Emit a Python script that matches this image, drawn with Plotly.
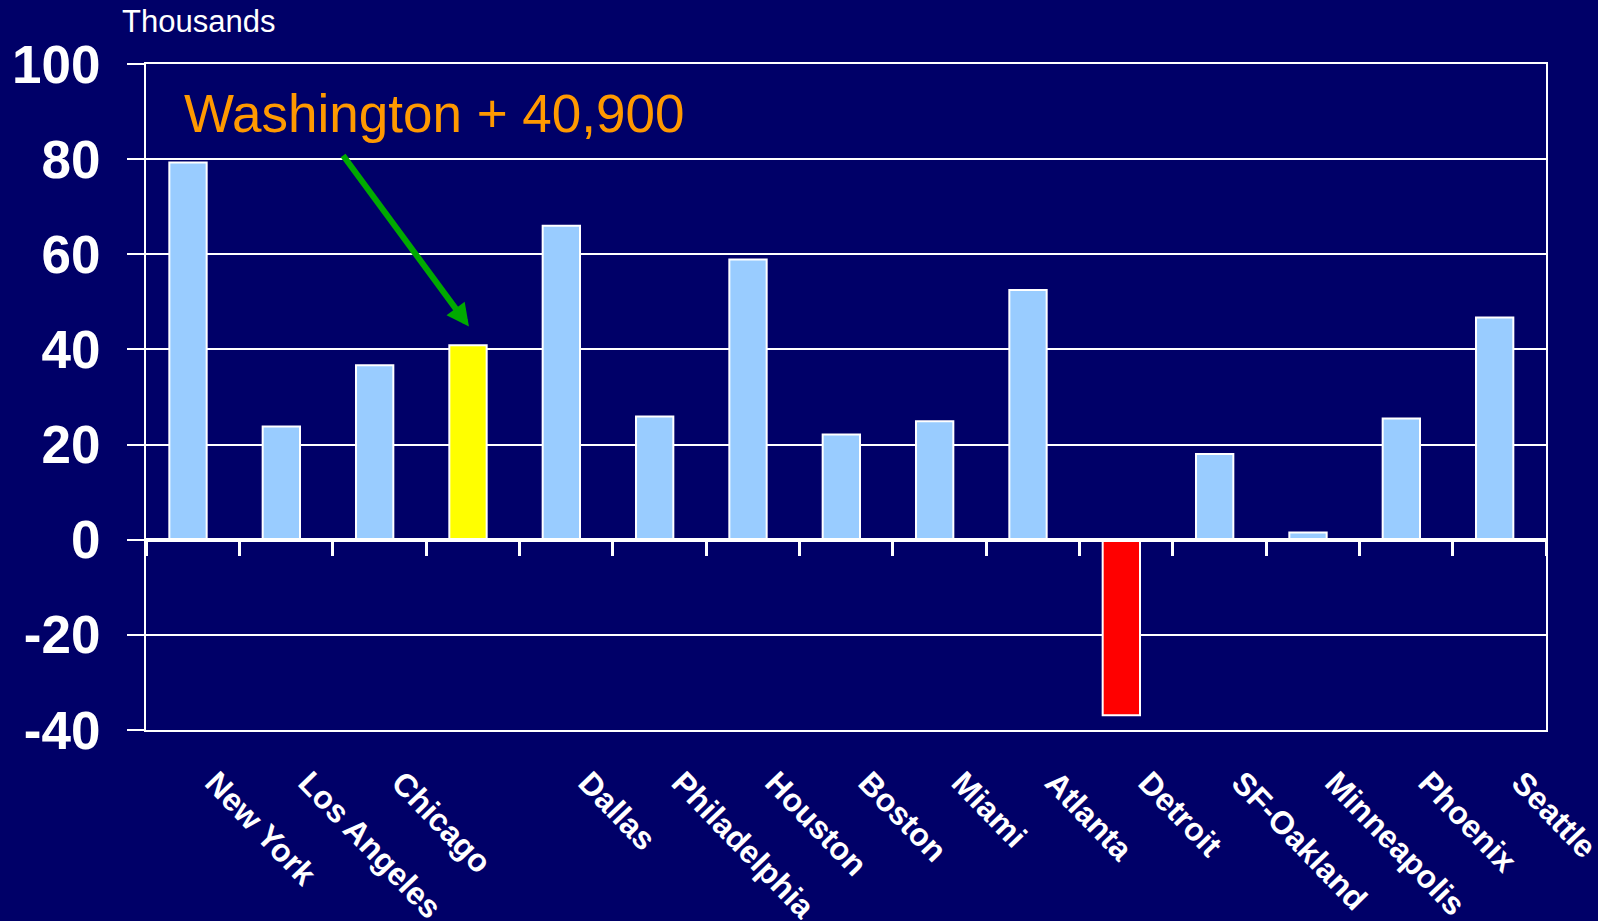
import plotly.graph_objects as go

cities = ["New York", "Los Angeles", "Chicago", "Washington", "Dallas", "Philadelphia",
          "Houston", "Boston", "Miami", "Atlanta", "Detroit", "SF-Oakland",
          "Minneapolis", "Phoenix", "Seattle"]
tick_labels = ["New York", "Los Angeles", "Chicago", "", "Dallas", "Philadelphia",
               "Houston", "Boston", "Miami", "Atlanta", "Detroit", "SF-Oakland",
               "Minneapolis", "Phoenix", "Seattle"]
values = [79.3, 23.8, 36.7, 40.9, 66.0, 25.9, 58.9, 22.1, 24.9, 52.5, -36.9, 18.0, 1.5, 25.5, 46.7]
bar_colors = ["#99CCFF"] * 3 + ["#FFFF00"] + ["#99CCFF"] * 6 + ["#FF0000"] + ["#99CCFF"] * 4
y_ticks = [-40, -20, 0, 20, 40, 60, 80, 100]
y_tick_text = ["-40", "-20", "0", "20", "40", "60", "80", "100"]

BG = "#000068"
W, H = 1598, 921
ML, MR, MT, MB = 146, 52, 64, 191
ymin, ymax = -40, 100
n = len(cities)

fig = go.Figure()
fig.add_trace(go.Bar(
    x=cities, y=values, width=0.4, offset=-0.25,
    marker=dict(color=bar_colors, line=dict(color="white", width=2)),
    showlegend=False,
))
# empty trace to make the zero-line axis render
fig.add_trace(go.Scatter(x=[], y=[], xaxis="x2", yaxis="y", showlegend=False, hoverinfo="skip"))

fig.update_layout(
    width=W, height=H,
    margin=dict(l=ML, r=MR, t=MT, b=MB, autoexpand=False),
    paper_bgcolor=BG, plot_bgcolor=BG,
    font=dict(family="Liberation Sans, Arial, sans-serif", color="white"),
    xaxis=dict(
        type="category", categoryorder="array", categoryarray=cities,
        tickmode="array", tickvals=cities, ticktext=tick_labels,
        tickangle=46, ticks="", ticklabelstandoff=19, ticklabelshift=22,
        tickfont=dict(size=32, color="white", weight="bold"),
        showgrid=False, zeroline=False, automargin=False,
        showline=True, linecolor="white", linewidth=2, mirror=True,
        range=[-0.5, n - 0.5],
    ),
    xaxis2=dict(
        overlaying="x", anchor="free", position=(0 - ymin) / (ymax - ymin),
        type="linear", range=[-0.5, n - 0.5], automargin=False,
        tickmode="array", tickvals=[i - 0.5 for i in range(n + 1)],
        showticklabels=False, showgrid=False, zeroline=False,
        showline=True, linecolor="white", linewidth=4,
        ticks="outside", ticklen=14, tickwidth=3, tickcolor="white",
    ),
    yaxis=dict(
        range=[ymin, ymax], tickmode="array", tickvals=y_ticks, ticktext=y_tick_text,
        showgrid=True, gridcolor="white", gridwidth=2,
        zeroline=False, automargin=False,
        showline=True, linecolor="white", linewidth=2, mirror=True,
        ticks="outside", ticklen=17, tickwidth=2, tickcolor="white",
        ticklabelstandoff=16,
        tickfont=dict(size=53, color="white", weight="bold"),
    ),
    annotations=[
        dict(text="Thousands", xref="paper", yref="paper",
             x=(120 - ML) / (W - ML - MR), y=(H - MB - 21) / (H - MT - MB),
             xanchor="left", yanchor="middle", showarrow=False,
             font=dict(size=31, color="white")),
        dict(text="Washington + 40,900", xref="paper", yref="paper",
             x=(182 - ML) / (W - ML - MR), y=(H - MB - 114) / (H - MT - MB),
             xanchor="left", yanchor="middle", showarrow=False,
             font=dict(size=53, color="#FF9900")),
        dict(text="", x=2.96, y=44.8, xref="x", yref="y",
             ax=1.6, ay=81.1, axref="x", ayref="y",
             showarrow=True, arrowhead=2, arrowsize=0.75, arrowwidth=6,
             arrowcolor="#00AA00"),
    ],
)

fig.write_html("out.html", config={"displayModeBar": False},
               post_script="document.body.style.margin='0';document.body.style.background='#000068';")
